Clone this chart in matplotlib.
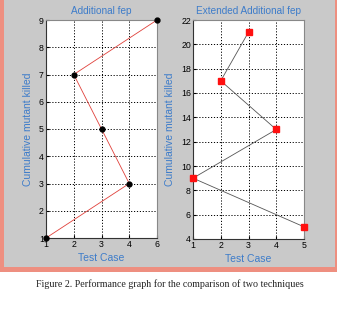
import numpy as np
import matplotlib.pyplot as plt
from matplotlib.patches import Rectangle

# Left panel: Additional fep
left_tick_labels = ["1", "2", "3", "4", "6"]
left_test_case = [1, 4, 3, 2, 6]
left_killed = [1, 3, 5, 7, 9]

# Right panel: Extended Additional fep
right_tick_labels = ["1", "2", "3", "4", "5"]
right_test_case = [3, 2, 4, 1, 5]
right_killed = [21, 17, 13, 9, 5]

caption = "Figure 2. Performance graph for the comparison of two techniques"

blue = "#3d7cc9"
grey = "#c9c9c9"
salmon = "#ee8f80"

plt.rcParams["font.family"] = ["Liberation Sans", "DejaVu Sans"]

fig = plt.figure(figsize=(3.39, 3.17), dpi=100)
fig.patch.set_facecolor("white")

# grey matlab window with salmon frame
fig.patches.append(Rectangle((0, 1 - 272 / 317), 337 / 339, 272 / 317,
                             transform=fig.transFigure, facecolor=salmon,
                             edgecolor="none", zorder=-2))
fig.patches.append(Rectangle((4 / 339, 1 - 267 / 317), 331 / 339, 267 / 317,
                             transform=fig.transFigure, facecolor=grey,
                             edgecolor="none", zorder=-1))


def style_axis(ax, title):
    ax.set_facecolor("white")
    ax.set_title(title, color=blue, fontsize=7.2, pad=4)
    ax.set_xlabel("Test Case", color=blue, fontsize=7.5, labelpad=3)
    ax.set_ylabel("Cumulative mutant killed", color=blue, fontsize=7.5, labelpad=4)
    ax.grid(True, linestyle=(0, (1.2, 1.8)), color="black", linewidth=0.7)
    ax.tick_params(direction="in", labelsize=6.3, length=2, pad=1.5)
    for sp in ax.spines.values():
        sp.set_linewidth(0.8)
        sp.set_color("#333333")
    ax.spines["top"].set_color("#888888")
    ax.spines["right"].set_color("#888888")


# left
ax1 = fig.add_axes([46 / 339, 1 - 238 / 317, 111 / 339, 218 / 317])
pos_map = {int(l): i + 1 for i, l in enumerate(left_tick_labels)}
left_x = [pos_map[v] for v in left_test_case]
ax1.plot(left_x, left_killed, color="#e0403a", linewidth=0.6,
         marker="o", markersize=3.5, markerfacecolor="black",
         markeredgecolor="black", clip_on=False, zorder=3)
ax1.set_xlim(1, len(left_tick_labels))
ax1.set_ylim(1, 9)
ax1.set_xticks(np.arange(1, len(left_tick_labels) + 1))
ax1.set_xticklabels(left_tick_labels)
ax1.set_yticks(np.arange(1, 10))
style_axis(ax1, "Additional fep")

# right
ax2 = fig.add_axes([193 / 339, 1 - 239 / 317, 111 / 339, 219 / 317])
ax2.plot(right_test_case, right_killed, color="#555555", linewidth=0.6,
         marker="s", markersize=4, markerfacecolor="#ff1010",
         markeredgecolor="#ff1010", clip_on=False, zorder=3)
ax2.set_xlim(1, 5)
ax2.set_ylim(4, 22)
ax2.set_xticks(np.arange(1, 6))
ax2.set_xticklabels(right_tick_labels)
ax2.set_yticks(np.arange(4, 23, 2))
style_axis(ax2, "Extended Additional fep")

fig.text(0.5, 1 - 284 / 317, caption, ha="center", va="center",
         fontsize=7.2, family="Liberation Serif", color="#222222")

plt.savefig("out.png", dpi=100)
